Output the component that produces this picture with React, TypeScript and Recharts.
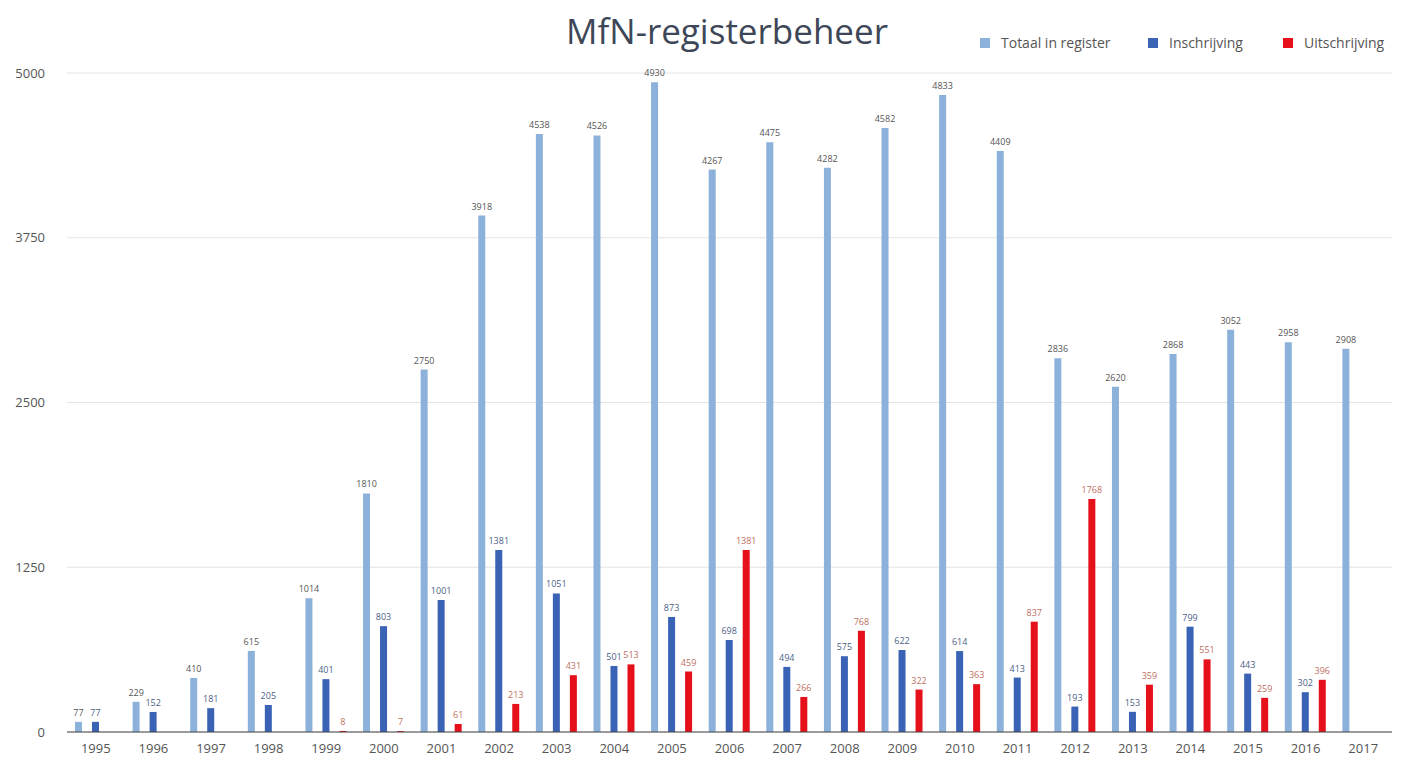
import React from "react";
import { BarChart, Bar, XAxis, YAxis, CartesianGrid, LabelList } from "recharts";

const years = ["1995","1996","1997","1998","1999","2000","2001","2002","2003","2004","2005","2006","2007","2008","2009","2010","2011","2012","2013","2014","2015","2016","2017"];
const totaal = [77,229,410,615,1014,1810,2750,3918,4538,4526,4930,4267,4475,4282,4582,4833,4409,2836,2620,2868,3052,2958,2908];
const inschrijving: (number | null)[] = [77,152,181,205,401,803,1001,1381,1051,501,873,698,494,575,622,614,413,193,153,799,443,302,null];
const uitschrijving: (number | null)[] = [null,null,null,null,8,7,61,213,431,513,459,1381,266,768,322,363,837,1768,359,551,259,396,null];
const yTicks = [0,1250,2500,3750,5000];

const data = years.map((y, i) => ({
  year: y,
  totaal: totaal[i],
  inschrijving: inschrijving[i],
  uitschrijving: uitschrijving[i],
}));

const C_TOT = "#8cb1da";
const C_INS = "#3a63b6";
const C_UIT = "#e5101a";
const FONT = "'Open Sans', sans-serif";

const legendItems = [
  { label: "Totaal in register", color: C_TOT, x: 980 },
  { label: "Inschrijving", color: C_INS, x: 1148 },
  { label: "Uitschrijving", color: C_UIT, x: 1283 },
];

export default function App() {
  return (
    <div style={{ position: "absolute", left: 0, top: 0, width: 1402, height: 759, background: "#fff" }}>
      <div
        style={{
          position: "absolute",
          left: 0,
          width: 1454,
          top: 7,
          textAlign: "center",
          fontFamily: FONT,
          fontSize: 35,
          color: "#3e4757",
        }}
      >
        MfN-registerbeheer
      </div>
      {legendItems.map((it) => (
        <div
          key={it.label}
          style={{
            position: "absolute",
            left: it.x,
            top: 33,
            display: "flex",
            alignItems: "center",
            fontFamily: FONT,
            fontSize: 14,
            color: "#555",
            whiteSpace: "nowrap",
          }}
        >
          <span style={{ width: 10, height: 10, background: it.color, display: "inline-block", marginRight: 11 }} />
          <span>{it.label}</span>
        </div>
      ))}
      <BarChart
        width={1402}
        height={759}
        data={data}
        margin={{ top: 73, right: 10, bottom: 7, left: 3 }}
        barSize={7}
        barGap={10}
      >
        <CartesianGrid vertical={false} stroke="#e3e3e3" />
        <XAxis
          dataKey="year"
          height={20}
          tickLine={false}
          axisLine={{ stroke: "#444", strokeWidth: 1 }}
          tick={{ fontFamily: FONT, fontSize: 13, fill: "#555" }}
          tickMargin={6}
          interval={0}
        />
        <YAxis
          width={64}
          domain={[0, 5000]}
          ticks={yTicks}
          axisLine={false}
          tickLine={false}
          tickMargin={16}
          tick={{ fontFamily: FONT, fontSize: 13, fill: "#555" }}
        />
        <Bar dataKey="totaal" name="Totaal in register" fill={C_TOT} isAnimationActive={false}>
          <LabelList dataKey="totaal" position="top" offset={6} style={{ fontFamily: FONT, fontSize: 9, fill: "#555" }} />
        </Bar>
        <Bar dataKey="inschrijving" name="Inschrijving" fill={C_INS} isAnimationActive={false}>
          <LabelList dataKey="inschrijving" position="top" offset={6} style={{ fontFamily: FONT, fontSize: 9, fill: "#4d5f86" }} />
        </Bar>
        <Bar dataKey="uitschrijving" name="Uitschrijving" fill={C_UIT} isAnimationActive={false}>
          <LabelList dataKey="uitschrijving" position="top" offset={6} style={{ fontFamily: FONT, fontSize: 9, fill: "#c0705f" }} />
        </Bar>
      </BarChart>
    </div>
  );
}
